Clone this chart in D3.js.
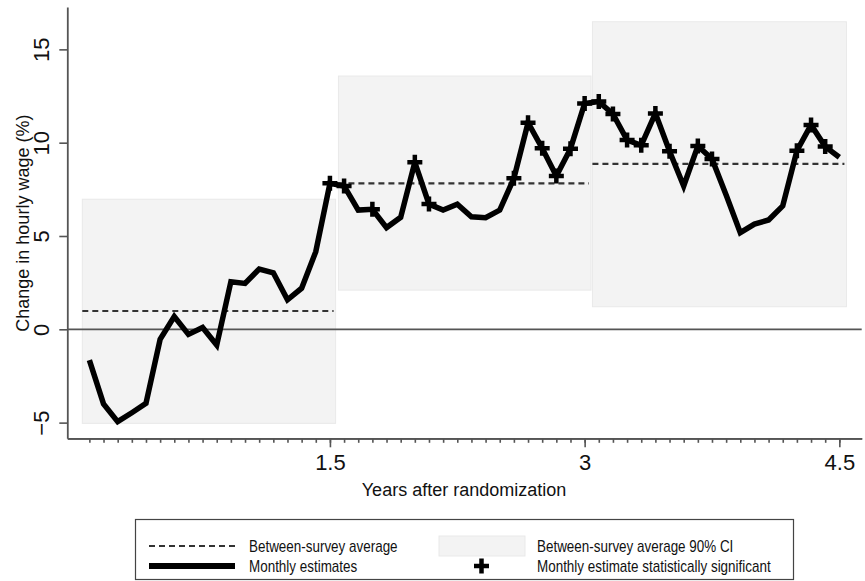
<!DOCTYPE html>
<html>
<head>
<meta charset="utf-8">
<script src="https://cdn.jsdelivr.net/npm/d3@7"></script>
<style>
  html, body { margin: 0; padding: 0; background: #fff; }
  svg { display: block; }
  text { font-family: Arial, "Liberation Sans", sans-serif; fill: #111; }
</style>
</head>
<body>
<svg id="chart" width="865" height="581"></svg>
<script>
// Months since randomization (1..54) and monthly wage estimates (%)
const months = d3.range(1, 55);
const monthlyEstimates = [
  -1.65, -4.0, -4.95, -4.47, -3.97, -0.54, 0.68, -0.27, 0.1, -0.84,
  2.55, 2.46, 3.23, 3.03, 1.58, 2.2, 4.16, 7.82, 7.68, 6.39,
  6.43, 5.45, 6.0, 8.95, 6.71, 6.39, 6.7, 6.03, 5.98, 6.39,
  8.09, 11.07, 9.7, 8.22, 9.68, 12.1, 12.2, 11.54, 10.14, 9.86,
  11.57, 9.54, 7.68, 9.82, 9.13, 7.2, 5.18, 5.64, 5.86, 6.61,
  9.57, 10.95, 9.79, 9.22
];
// Months whose estimate is statistically significant
const significantMonths = [18, 19, 21, 24, 25, 31, 32, 33, 34, 35, 36, 37, 38, 39, 40, 41, 42, 44, 45, 51, 52, 53];

// Between-survey periods: span (months), average and 90% CI
const periodStart = [0.5, 18.6, 36.55];
const periodEnd = [18.4, 36.45, 54.5];
const periodAverage = [0.98, 7.82, 8.86];
const periodLower = [-5.04, 2.1, 1.21];
const periodUpper = [6.97, 13.57, 16.48];

// Axis ticks
const yTicks = [-5, 0, 5, 10, 15];
const xMajorTicks = [18, 36, 54];
const xMajorLabels = ["1.5", "3", "4.5"];

const svg = d3.select("#chart");
const axisColor = "#555";

const x = d3.scaleLinear().domain([-0.56, 55.58]).range([67.3, 861.7]);
const y = d3.scaleLinear().domain([-5.84, 17.27]).range([438.3, 7]);

// CI boxes
const periods = periodStart.map((s, i) => ({
  s, e: periodEnd[i], avg: periodAverage[i], lo: periodLower[i], hi: periodUpper[i]
}));
svg.append("g").selectAll("rect").data(periods).join("rect")
  .attr("x", d => x(d.s)).attr("width", d => x(d.e) - x(d.s))
  .attr("y", d => y(d.hi)).attr("height", d => y(d.lo) - y(d.hi))
  .attr("fill", "#f3f3f3").attr("stroke", "#e9e9e9").attr("stroke-width", 1);

// Zero line
svg.append("line")
  .attr("x1", x.range()[0]).attr("x2", x.range()[1])
  .attr("y1", y(0)).attr("y2", y(0))
  .attr("stroke", axisColor).attr("stroke-width", 1.8);

// Between-survey averages
svg.append("g").selectAll("line").data(periods).join("line")
  .attr("x1", d => x(d.s)).attr("x2", d => x(d.e) - 2)
  .attr("y1", d => y(d.avg)).attr("y2", d => y(d.avg))
  .attr("stroke", "#333").attr("stroke-width", 2.2)
  .attr("stroke-dasharray", "6,4");

// Monthly estimates line
const series = months.map((m, i) => ({ m, v: monthlyEstimates[i] }));
svg.append("path").datum(series)
  .attr("fill", "none").attr("stroke", "#000").attr("stroke-width", 5.5)
  .attr("stroke-linejoin", "miter").attr("stroke-miterlimit", 3)
  .attr("d", d3.line().x(d => x(d.m)).y(d => y(d.v)));

// Significance markers
const plusPath = (r) => `M${-r},0H${r}M0,${-r}V${r}`;
svg.append("g").selectAll("path")
  .data(series.filter(d => significantMonths.includes(d.m))).join("path")
  .attr("transform", d => `translate(${x(d.m)},${y(d.v)})`)
  .attr("d", plusPath(7.5)).attr("stroke", "#000").attr("stroke-width", 4.5)
  .attr("fill", "none");

// Y axis
const yAxis = svg.append("g").attr("transform", `translate(${x.range()[0]},0)`)
  .call(d3.axisLeft(y).tickValues(yTicks).tickSize(8).tickSizeOuter(0).tickFormat(d3.format("d")));
yAxis.selectAll("text")
  .attr("transform", "rotate(-90)").attr("x", 0).attr("y", -18).attr("dy", 0)
  .attr("text-anchor", "middle").style("font-size", "22px").style("font-family", "Arial, 'Liberation Sans', sans-serif").attr("fill", "#222");

// X axis: monthly minor ticks, labelled yearly majors
const xMinor = svg.append("g").attr("transform", `translate(0,${y.range()[0]})`)
  .call(d3.axisBottom(x).tickValues(months).tickSize(4.5).tickSizeOuter(0).tickFormat(""));
const xMajor = svg.append("g").attr("transform", `translate(0,${y.range()[0]})`)
  .call(d3.axisBottom(x).tickValues(xMajorTicks).tickSize(9).tickSizeOuter(0)
    .tickFormat((d, i) => xMajorLabels[i]));
xMajor.selectAll("text").attr("y", 31.7).attr("dy", 0)
  .style("font-size", "22px").style("font-family", "Arial, 'Liberation Sans', sans-serif").attr("fill", "#222");

[yAxis, xMinor, xMajor].forEach(g => {
  g.selectAll("path.domain").attr("stroke", axisColor).attr("stroke-width", 1.8);
  g.selectAll(".tick line").attr("stroke", axisColor).attr("stroke-width", 1.6);
});

// Axis titles
svg.append("text")
  .attr("transform", `translate(29,${(y(-5.84) + y(17.27)) / 2 + 0.5}) rotate(-90)`)
  .attr("text-anchor", "middle").style("font-size", "18px")
  .text("Change in hourly wage (%)");
svg.append("text")
  .attr("x", 464).attr("y", 496).attr("text-anchor", "middle").style("font-size", "18px")
  .text("Years after randomization");

// Legend (condensed labels)
const legend = svg.append("g").attr("class", "legend");
legend.append("rect").attr("x", 135.5).attr("y", 519.5).attr("width", 658).attr("height", 60)
  .attr("fill", "#fff").attr("stroke", "#444").attr("stroke-width", 1.2);
const row1 = 546, row2 = 566;
const legendLabel = (lx, ly, str) => legend.append("text")
  .attr("transform", `translate(${lx},${ly}) scale(0.84,1)`)
  .style("font-size", "16px").attr("fill", "#222").text(str);
legend.append("line").attr("x1", 149).attr("x2", 235).attr("y1", row1).attr("y2", row1)
  .attr("stroke", "#333").attr("stroke-width", 2.2).attr("stroke-dasharray", "6,4");
legendLabel(249, row1 + 5.5, "Between-survey average");
legend.append("rect").attr("x", 439).attr("y", row1 - 10).attr("width", 86).attr("height", 20)
  .attr("fill", "#f3f3f3").attr("stroke", "#e9e9e9");
legendLabel(537, row1 + 5.5, "Between-survey average 90% CI");
legend.append("line").attr("x1", 149).attr("x2", 235).attr("y1", row2).attr("y2", row2)
  .attr("stroke", "#000").attr("stroke-width", 6);
legendLabel(249, row2 + 5.5, "Monthly estimates");
legend.append("path").attr("transform", `translate(481.5,${row2})`).attr("d", plusPath(7.5))
  .attr("stroke", "#000").attr("stroke-width", 4.5);
legendLabel(537, row2 + 5.5, "Monthly estimate statistically significant");
</script>
</body>
</html>
